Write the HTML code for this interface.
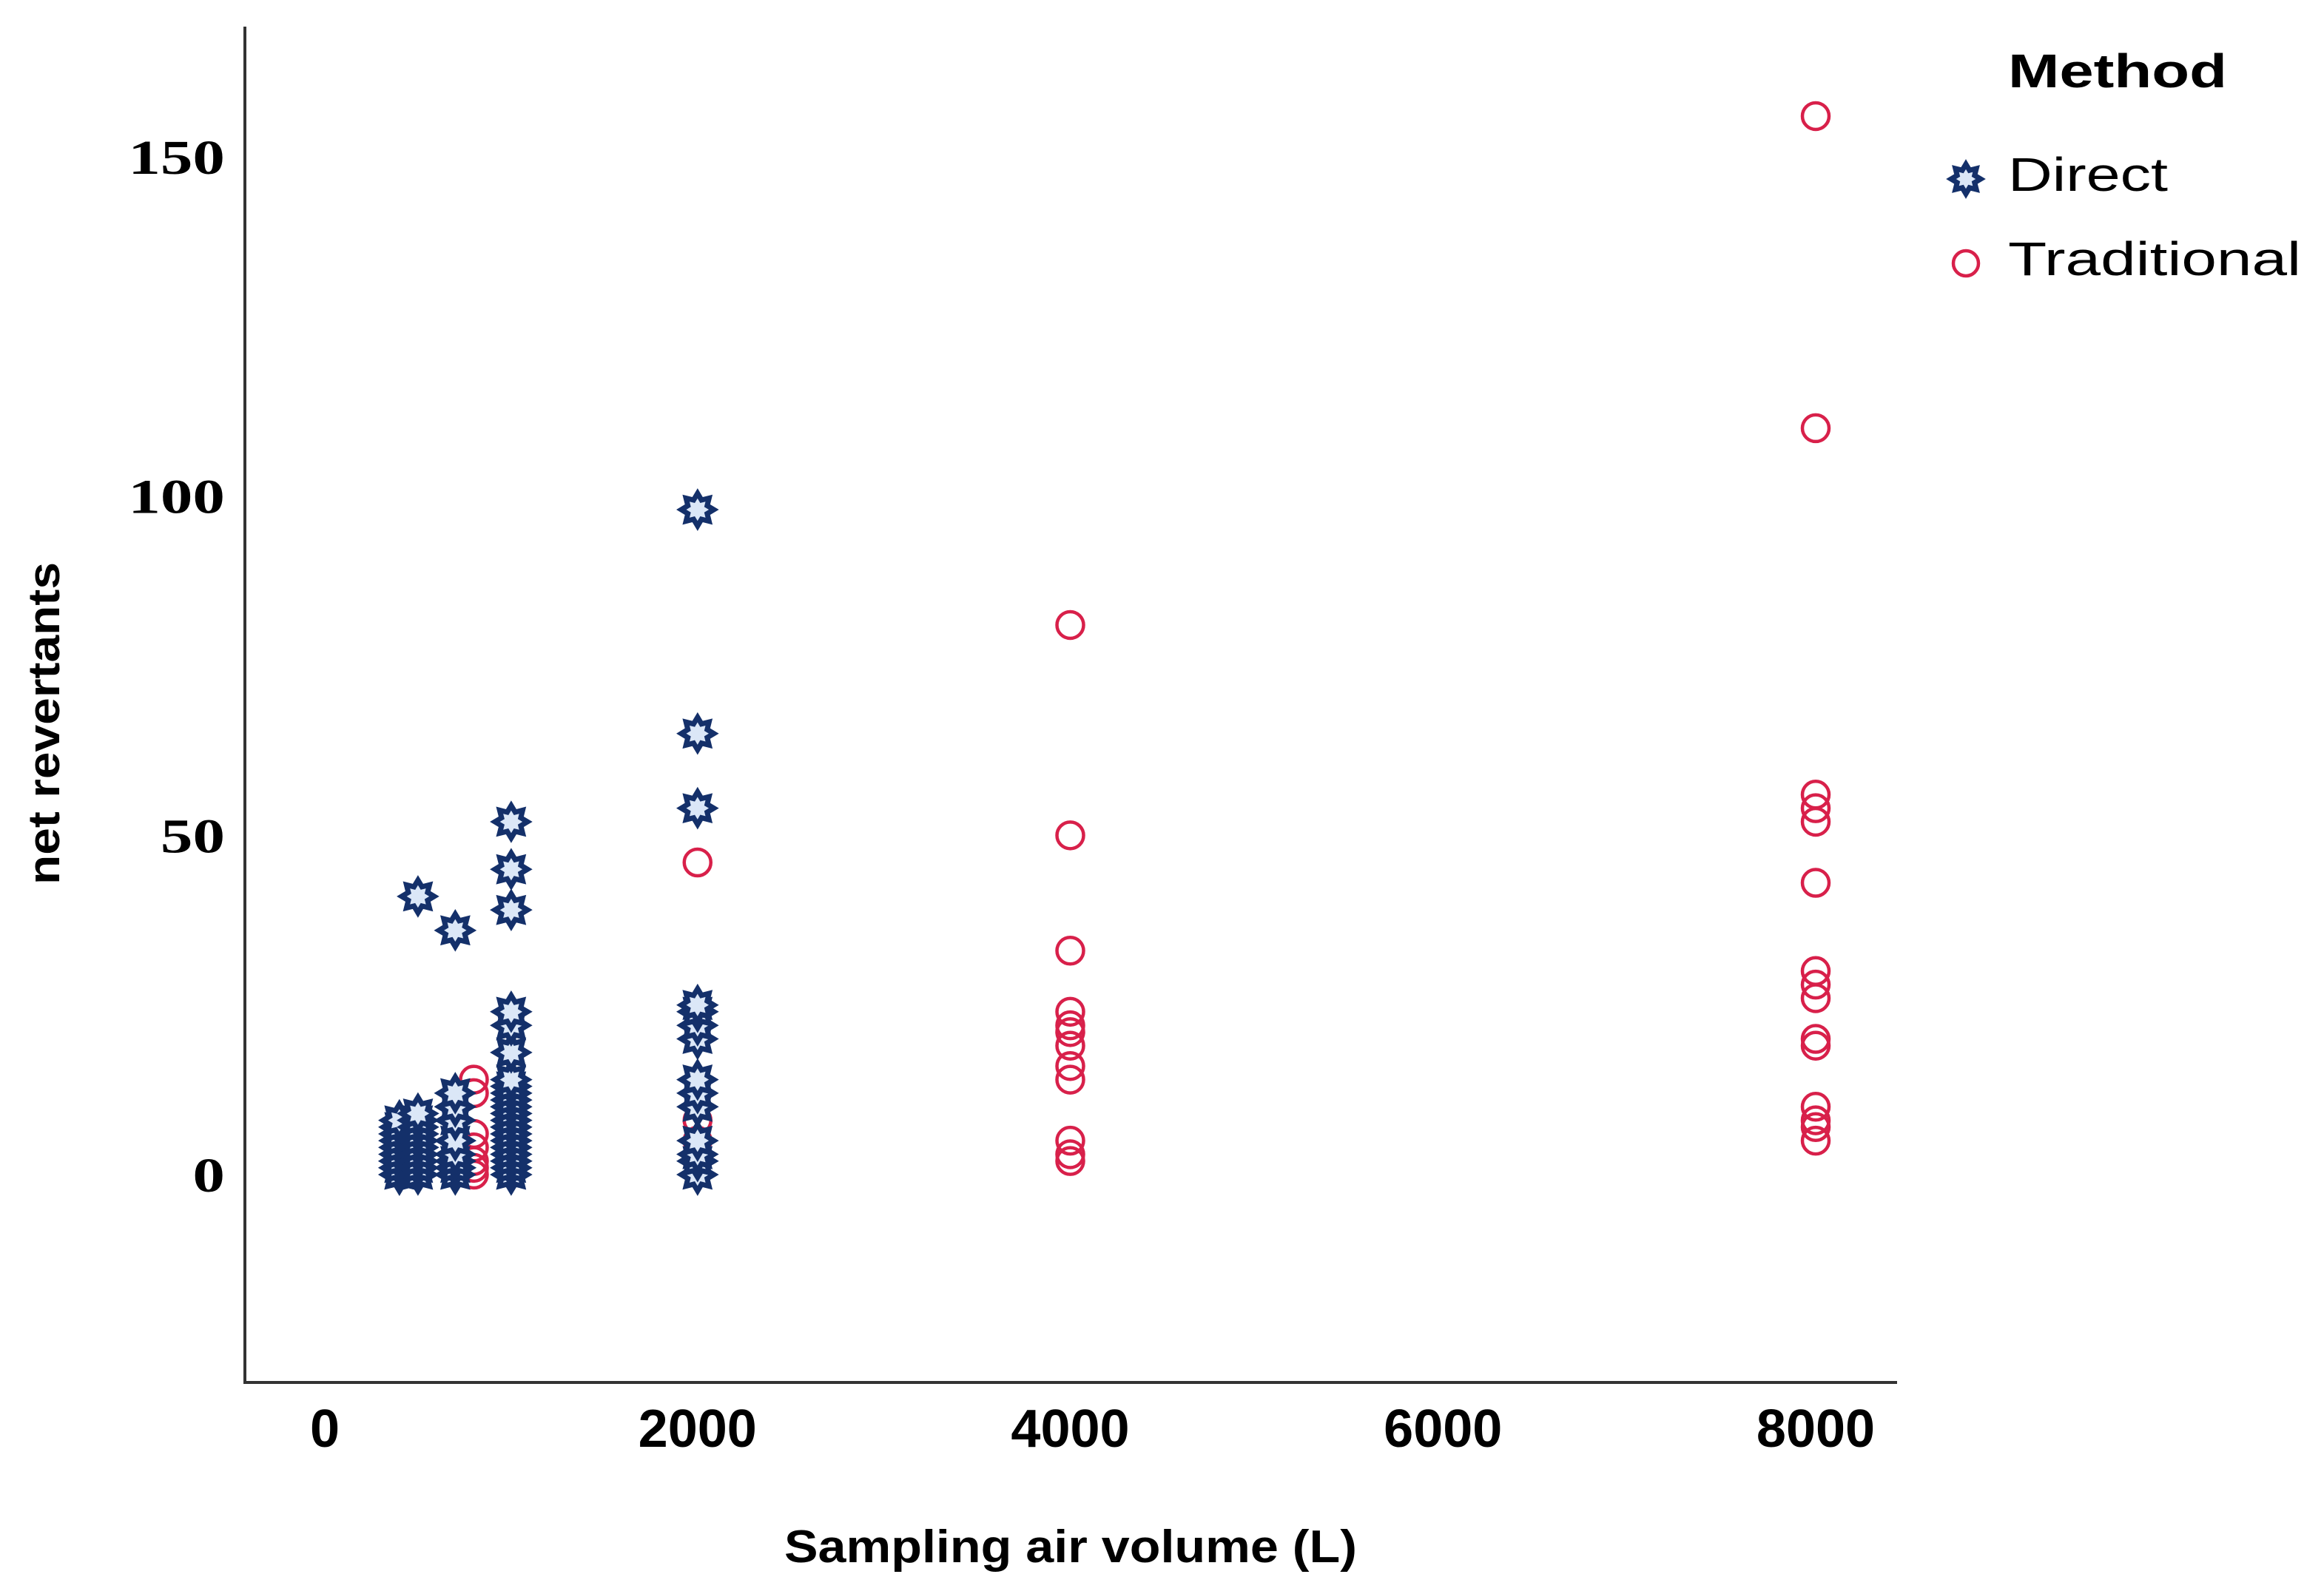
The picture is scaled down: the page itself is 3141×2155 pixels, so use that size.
<!DOCTYPE html>
<html><head><meta charset="utf-8"><style>
html,body{margin:0;padding:0;background:#fff;}
svg{display:block;}
</style></head><body>
<svg id="chart" width="3141" height="2155" viewBox="0 0 3141 2155" xmlns="http://www.w3.org/2000/svg">
<rect width="3141" height="2155" fill="#fff"/>
<g id="marks"></g>
<line x1="331" y1="36" x2="331" y2="1870" stroke="#333" stroke-width="4"/>
<line x1="329" y1="1869" x2="2564" y2="1869" stroke="#333" stroke-width="4"/>
<g id="ticks"></g>
<text x="1447" y="2112" font-family="Liberation Sans, sans-serif" font-weight="bold" font-size="62" text-anchor="middle" textLength="774" lengthAdjust="spacingAndGlyphs">Sampling air volume (L)</text>
<text transform="translate(80,978) rotate(-90)" font-family="Liberation Sans, sans-serif" font-weight="bold" font-size="60" text-anchor="middle" textLength="436" lengthAdjust="spacingAndGlyphs">net revertants</text>
<g>
<text x="2714" y="118" font-family="Liberation Sans, sans-serif" font-weight="bold" font-size="64" textLength="296" lengthAdjust="spacingAndGlyphs">Method</text>
<g id="legend-marks"></g>
<text x="2714" y="258" font-family="Liberation Sans, sans-serif" font-size="64" textLength="216" lengthAdjust="spacingAndGlyphs">Direct</text>
<text x="2714" y="372" font-family="Liberation Sans, sans-serif" font-size="64" textLength="396" lengthAdjust="spacingAndGlyphs">Traditional</text>
</g>
</svg>
<script>
const xTicks = [0, 2000, 4000, 6000, 8000];
const yTicks = [0, 50, 100, 150];
const directX = [400,400,400,400,400,400,400,400,400,400,400,400,
 500,500,500,500,500,500,500,500,500,500,500,
 700,700,700,700,700,700,700,700,700,
 1000,1000,1000,1000,1000,1000,1000,1000,1000,1000,1000,1000,1000,1000,1000,1000,1000,1000,1000,1000,1000,
 2000,2000,2000,2000,2000,2000,2000,2000,2000,2000,2000,2000,2000,2000];
const directY = [0,0,1,1,2,2,3,4,5,6,7,8,
 0,1,2,3,4,5,6,7,8,9,41,
 0,1,2,3,5,8,10,12,36,
 0,1,2,3,4,5,6,7,8,9,10,11,12,13,14,18,22,24,39,45,52,
 0,2,3,5,10,12,14,20,22,24,25,54,65,98];
const tradX = [800,800,800,800,800,800,800,
 2000,2000,2000,2000,2000,
 4000,4000,4000,4000,4000,4000,4000,4000,4000,4000,4000,4000,
 8000,8000,8000,8000,8000,8000,8000,8000,8000,8000,8000,8000,8000,8000,8000];
const tradY = [0,1,2,4,6,12,14,
 2,3,5,8,46,
 2,3,5,14,16,19,21,22,24,33,50,81,
 5,7,8,10,19,20,26,28,30,43,52,54,56,110,156];

const NS = 'http://www.w3.org/2000/svg';
function xs(v){ return 439 + v * (2454 - 439) / 8000; }
function ys(v){ return 1588 - v * (1588 - 212) / 150; }

function starPoints(cx, cy, ro, ri){
  const pts = [];
  for (let i = 0; i < 16; i++){
    const r = i % 2 === 0 ? ro : ri;
    const a = Math.PI * i / 8 - Math.PI / 2;
    pts.push((cx + r * Math.cos(a)).toFixed(1) + ',' + (cy + r * Math.sin(a)).toFixed(1));
  }
  return pts.join(' ');
}
function makeStar(parent, cx, cy, name, r){
  const s = document.createElementNS(NS, 'polygon');
  
  
  s.setAttribute('points', starPoints(cx, cy, r, r * 0.64));
  s.setAttribute('fill', '#dbe7f7');
  s.setAttribute('stroke', '#14306a');
  s.setAttribute('stroke-width', '7');
  parent.appendChild(s);
}
function makeCircle(parent, cx, cy, name, r){
  const c = document.createElementNS(NS, 'circle');
  
  
  c.setAttribute('cx', cx);
  c.setAttribute('cy', cy);
  c.setAttribute('r', r);
  c.setAttribute('fill', 'none');
  c.setAttribute('stroke', '#d8204a');
  c.setAttribute('stroke-width', '4.5');
  parent.appendChild(c);
}

const marks = document.getElementById('marks');
for (let i = 0; i < tradX.length; i++) makeCircle(marks, xs(tradX[i]), ys(tradY[i]), 'traditional-point', 18);
for (let i = 0; i < directX.length; i++) makeStar(marks, xs(directX[i]), ys(directY[i]), 'direct-point', 22);

const lm = document.getElementById('legend-marks');
makeStar(lm, 2657, 242, 'legend-marker-direct', 20);
makeCircle(lm, 2657, 356, 'legend-marker-traditional', 17);

const tg = document.getElementById('ticks');
xTicks.forEach(function(v){
  const t = document.createElementNS(NS, 'text');
  
  
  t.setAttribute('x', xs(v));
  t.setAttribute('y', 1956);
  t.setAttribute('text-anchor', 'middle');
  t.setAttribute('font-family', 'Liberation Sans, sans-serif');
  t.setAttribute('font-weight', 'bold');
  t.setAttribute('font-size', '72');
  t.textContent = String(v);
  tg.appendChild(t);
});
yTicks.forEach(function(v){
  const t = document.createElementNS(NS, 'text');
  
  
  t.setAttribute('x', 304);
  t.setAttribute('y', ys(v) + 23);
  t.setAttribute('text-anchor', 'end');
  t.setAttribute('font-family', 'Liberation Serif, serif');
  t.setAttribute('font-weight', 'bold');
  t.setAttribute('font-size', '66');
  t.setAttribute('transform', 'translate(' + (304 * -0.32) + ',0) scale(1.32,1)');
  t.textContent = String(v);
  tg.appendChild(t);
});
</script>
</body></html>
